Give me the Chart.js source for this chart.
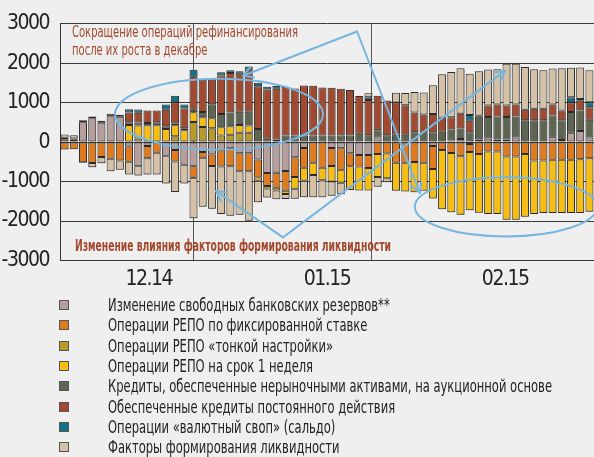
<!DOCTYPE html>
<html><head><meta charset="utf-8">
<script src="https://cdn.jsdelivr.net/npm/chart.js@4.4.1/dist/chart.umd.min.js"></script>
<style>
html,body{margin:0;padding:0;background:#efefef;}
#wrap{position:relative;width:594px;height:457px;overflow:hidden;background:#efefef;font-family:"DejaVu Sans Condensed","Liberation Sans Narrow",sans-serif;}
#chartBox{position:absolute;left:0;top:0;width:594px;height:300px;}
.note{position:absolute;color:#a4482c;white-space:nowrap;font-size:16px;line-height:18.7px;transform-origin:0 0;}
.row{position:absolute;left:0;height:20px;width:594px;}
.sw{position:absolute;left:59px;top:5px;width:8px;height:8px;border:1px solid #555;}
.lt{position:absolute;left:108px;top:0;font-size:17px;line-height:20px;color:#222;white-space:nowrap;transform-origin:0 0;display:inline-block;}
</style></head>
<body>
<div id="wrap">
  <div id="chartBox"><canvas id="c"></canvas></div>
  <div class="note" id="noteTop" style="left:72px;top:22.5px;">Сокращение операций рефинансирования<br>после их роста в декабре</div>
  <div class="note" id="noteBottom" style="left:75px;top:237px;font-weight:bold;">Изменение влияния факторов формирования ликвидности</div>
  <div id="legend"></div>
</div>
<script>
// ---- data (млрд руб.) ----
const categories = Array.from({length: 58}, (_, i) => i + 1); // trading days, Dec 2014 – Feb 2015
const monthLabels = ['12.14', '01.15', '02.15'];
const monthCenters = [9.15, 28.5, 47.85];
const monthBreaks = [18.8, 38.2];

const seriesNames = [
  'Изменение свободных банковских резервов**',
  'Операции РЕПО по фиксированной ставке',
  'Операции РЕПО «тонкой настройки»',
  'Операции РЕПО на срок 1 неделя',
  'Кредиты, обеспеченные нерыночными активами, на аукционной основе',
  'Обеспеченные кредиты постоянного действия',
  'Операции «валютный своп» (сальдо)',
  'Факторы формирования ликвидности'
];
const seriesColors = ['#b59e9b', '#e07a1f', '#b8992b', '#f6be15', '#5e6651', '#a14a2f', '#11728a', '#d5c2a6'];

const reserves = [70,60,500,600,490,655,640,-115,-615,-100,0,-350,-200,-575,-616,-250,-317,-200,-158,-283,-283,-441,-783,-775,-733,-383,-150,0,0,-150,-158,-283,-325,-325,117,0,0,0,0,0,-100,0,42,75,-50,67,92,67,67,117,0,0,0,133,50,233,283,117];
const repoFixed = [-190,-180,-510,-530,-380,-420,-470,-385,0,-310,-270,0,-292,0,-291,-150,-292,-417,-458,-458,-458,-458,-333,-383,-500,-500,-500,-525,-650,-458,-541,-333,-292,-333,-300,-292,-525,-525,-508,-525,-580,-200,-275,-358,-200,-300,-240,-240,-367,-367,-300,-467,-467,-450,-450,-450,-433,-408];
const repoFine = [0,0,0,0,0,0,0,0,90,0,0,0,150,0,507,380,350,167,183,233,233,0,0,0,0,0,0,0,0,0,0,0,0,0,0,0,0,0,0,0,0,0,0,0,0,0,0,0,0,0,0,0,0,0,0,0,0,0];
const repoWeek = [0,0,0,0,0,0,0,430,330,425,425,333,275,300,250,250,250,208,217,200,183,-83,-58,-67,-83,-300,-330,-310,-316,-390,-333,-600,-608,-566,-583,-625,-708,-725,-766,-708,-750,-1500,-1500,-1483,-1480,-1490,-1583,-1583,-1600,-1600,-1591,-1358,-1333,-1350,-1350,-1350,-1366,-1358];
const creditsAuction = [0,0,0,0,0,0,0,70,75,60,75,67,42,50,63,130,358,333,350,333,350,333,83,67,167,167,167,167,167,167,167,167,208,175,183,175,183,183,250,233,250,258,275,267,250,575,541,583,566,533,550,550,550,541,500,525,516,450];
const creditsStanding = [40,30,50,50,50,60,50,250,250,315,300,416,541,500,837,815,641,975,1000,966,1066,1083,1250,1283,1225,1190,1266,1258,1216,1208,1183,1150,958,891,875,875,816,750,500,466,458,358,308,375,291,25,291,300,291,300,267,291,291,275,250,250,250,316];
const fxSwap = [0,0,0,0,0,0,0,80,80,0,0,133,167,100,173,0,0,83,67,58,83,83,67,67,0,0,0,0,0,0,0,0,0,67,0,0,0,0,0,0,0,0,0,0,142,0,0,0,0,0,0,0,0,0,0,125,40,125];
const liquidityFactors = [80,80,-20,-110,-160,-320,-230,-320,-235,-415,-555,-700,-774,-475,-1025,-1240,-1083,-1208,-1250,-1100,-1250,-541,-233,-225,-125,-250,-420,-560,-433,-360,-291,0,0,100,-250,-100,250,308,516,558,733,1100,1150,1150,1050,1125,916,891,1058,1033,1083,1000,975,916,1066,750,800,808];

const seriesValues = [reserves, repoFixed, repoFine, repoWeek, creditsAuction, creditsStanding, fxSwap, liquidityFactors];

// ---- annotations in data units (x = bar index, y = value) ----
const ellipses = [
  {cx: 16.77, cy: 705, rx: 11.3, ry: 900},
  {cx: 47.94, cy: -1640, rx: 9.9, ry: 750}
];
const arrowGroups = [
  {apex: [31.76, 2800], ends: [[19.38, 1678], [38.6, -1291]]},
  {apex: [23.72, -2414], ends: [[16.44, -1244], [47.83, 1803]]}
];

const FONT = "'DejaVu Sans Condensed','Liberation Sans Narrow',sans-serif";

const datasets = seriesValues.map((vals, k) => ({
  label: seriesNames[k],
  data: vals.map((v, i) => ({x: i, y: v === 0 ? null : v})),
  backgroundColor: seriesColors[k],
  borderColor: '#2e2e2e',
  borderWidth: 1,
  borderSkipped: false,
  stack: 's',
  categoryPercentage: 1,
  barPercentage: 0.87
}));

const textPlugin = {
  id: 'narrowText',
  beforeDraw(chart) { chart.ctx.letterSpacing = '-1.5px'; },
  afterDraw(chart) { chart.ctx.letterSpacing = '0px'; }
};

const shadowPlugin = {
  id: 'barShadow',
  beforeDatasetsDraw(chart) {
    const ctx = chart.ctx;
    ctx.save();
    ctx.shadowColor = 'rgba(0,0,0,0.28)';
    ctx.shadowBlur = 1.5;
    ctx.shadowOffsetX = 1;
    ctx.shadowOffsetY = 1;
  },
  afterDatasetsDraw(chart) { chart.ctx.restore(); }
};

const annotPlugin = {
  id: 'annot',
  afterDatasetsDraw(chart) {
    const {ctx, scales: {x, y}} = chart;
    ctx.save();
    ctx.shadowColor = 'rgba(0,0,0,0)';
    ctx.strokeStyle = '#76b6de';
    ctx.lineWidth = 2;
    ctx.lineCap = 'round';
    ctx.lineJoin = 'round';
    ellipses.forEach(e => {
      const cx = x.getPixelForValue(e.cx), cy = y.getPixelForValue(e.cy);
      const rx = Math.abs(x.getPixelForValue(e.cx + e.rx) - cx);
      const ry = Math.abs(y.getPixelForValue(e.cy + e.ry) - cy);
      ctx.beginPath();
      ctx.ellipse(cx, cy, rx, ry, 0, 0, Math.PI * 2);
      ctx.stroke();
    });
    arrowGroups.forEach(g => {
      const ax = x.getPixelForValue(g.apex[0]), ay = y.getPixelForValue(g.apex[1]);
      g.ends.forEach(en => {
        const ex = x.getPixelForValue(en[0]), ey = y.getPixelForValue(en[1]);
        ctx.beginPath();
        ctx.moveTo(ax, ay); ctx.lineTo(ex, ey); ctx.stroke();
        const ang = Math.atan2(ey - ay, ex - ax);
        const L = 11, spread = 0.5;
        ctx.beginPath();
        ctx.moveTo(ex - L * Math.cos(ang - spread), ey - L * Math.sin(ang - spread));
        ctx.lineTo(ex, ey);
        ctx.lineTo(ex - L * Math.cos(ang + spread), ey - L * Math.sin(ang + spread));
        ctx.stroke();
      });
    });
    ctx.restore();
  }
};

const tickPositions = [...monthCenters, ...monthBreaks].sort((a, b) => a - b);

new Chart(document.getElementById('c'), {
  type: 'bar',
  data: {datasets},
  options: {
    responsive: true,
    maintainAspectRatio: false,
    animation: false,
    devicePixelRatio: 1,
    layout: {padding: {top: 20, left: 0, right: 0, bottom: 0}},
    plugins: {legend: {display: false}, tooltip: {enabled: false}},
    scales: {
      x: {
        type: 'linear',
        min: -0.5,
        max: categories.length - 0.5,
        offset: false,
        afterBuildTicks: s => { s.ticks = tickPositions.map(v => ({value: v})); },
        afterFit: s => { s.height = 39.5; },
        ticks: {
          autoSkip: false, maxRotation: 0, padding: 6,
          font: {family: FONT, size: 21}, color: '#222',
          callback: v => { const k = monthCenters.indexOf(v); return k >= 0 ? monthLabels[k] : ''; }
        },
        grid: {drawTicks: false, lineWidth: 1,
          color: c => (c.tick && monthBreaks.includes(c.tick.value)) ? '#555' : 'rgba(0,0,0,0)'},
        border: {display: true, color: '#333'}
      },
      y: {
        stacked: true,
        min: -3000, max: 3000,
        afterFit: s => { s.width = 60; },
        ticks: {stepSize: 1000, padding: 11, font: {family: FONT, size: 21}, color: '#222',
          callback: v => String(v)},
        grid: {drawTicks: false, color: '#3a3a3a', lineWidth: 1},
        border: {display: true, color: '#333'}
      }
    }
  },
  plugins: [textPlugin, shadowPlugin, annotPlugin]
});

// legend
const lg = document.getElementById('legend');
const ltEls = [];
seriesNames.forEach((n, k) => {
  const r = document.createElement('div');
  r.className = 'row';
  r.style.top = (295 + 20.3 * k) + 'px';
  r.innerHTML = '<span class="sw" style="background:' + seriesColors[k] + '"></span><span class="lt"></span>';
  const t = r.querySelector('.lt');
  t.textContent = n;
  ltEls.push(t);
  lg.appendChild(r);
});
// condense text horizontally to the widths of the original typeface
const maxW = Math.max(...ltEls.map(e => e.getBoundingClientRect().width));
const legScale = 444 / maxW;
ltEls.forEach(e => { e.style.transform = 'scaleX(' + legScale + ')'; });
const nt = document.getElementById('noteTop');
nt.style.transform = 'scaleX(' + (226 / nt.getBoundingClientRect().width) + ')';
const nb = document.getElementById('noteBottom');
nb.style.transform = 'scaleX(' + (316 / nb.getBoundingClientRect().width) + ')';
</script>
</body></html>
